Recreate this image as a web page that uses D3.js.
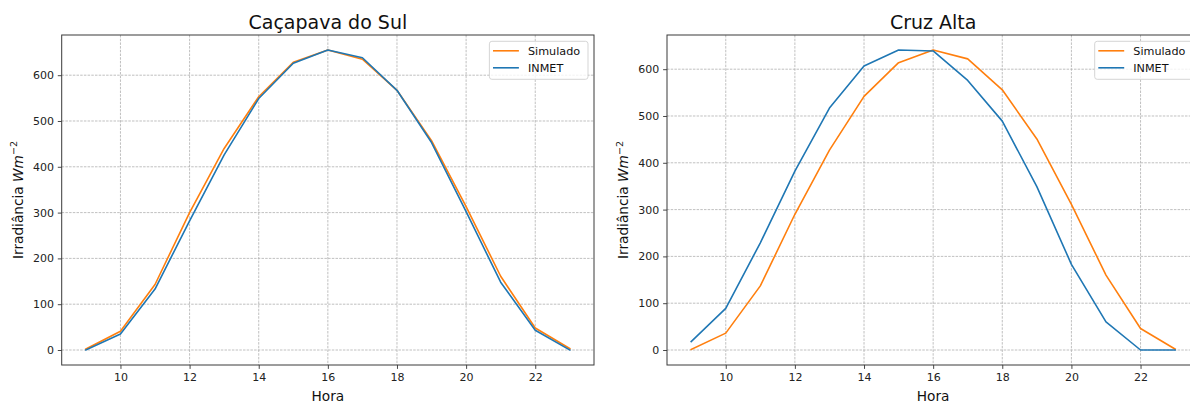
<!DOCTYPE html>
<html>
<head>
<meta charset="utf-8">
<script src="https://cdn.jsdelivr.net/npm/d3@7"></script>
<style>
  html, body { margin: 0; padding: 0; background: #fff; }
  svg { display: block; font-family: "DejaVu Sans", sans-serif; }
</style>
</head>
<body>
<svg id="chart" width="1190" height="403"></svg>
<script>
// ---- Data ----
const hours = [9, 10, 11, 12, 13, 14, 15, 16, 17, 18, 19, 20, 21, 22, 23];
const xTicks = [10, 12, 14, 16, 18, 20, 22];
const yTicks = [0, 100, 200, 300, 400, 500, 600];
const titles = ["Caçapava do Sul", "Cruz Alta"];
const seriesNames = ["Simulado", "INMET"];

const cacapavaSimulado = [2, 41, 143, 300, 440, 553, 628, 655, 635, 567, 457, 313, 161, 48, 3];
const cacapavaINMET    = [0, 35, 133, 282, 426, 549, 626, 655, 638, 567, 453, 302, 148, 43, 0];
const cruzAltaSimulado = [1, 36, 137, 290, 427, 542, 614, 641, 622, 556, 451, 311, 160, 46, 2];
const cruzAltaINMET    = [18, 89, 229, 382, 517, 607, 641, 639, 576, 489, 349, 183, 60, 0, 0];

const colors = ["#ff7f0e", "#1f77b4"];

(function () {
const panels = [
  { title: titles[0], series: [cacapavaSimulado, cacapavaINMET], left: 61.7 },
  { title: titles[1], series: [cruzAltaSimulado, cruzAltaINMET], left: 667 }
];

const svg = d3.select("#chart");
const W = 532.3, plotTop = 35, plotBottom = 365;
const tickFont = 11, labelFont = 13.7, titleFont = 19, legendFont = 11.2;
const tickLen = 3.9, tickPad = 3.9;

panels.forEach((p, pi) => {
  const g = svg.append("g");
  const x0 = p.left, x1 = p.left + W;

  const xExt = d3.extent(hours);
  const xPad = (xExt[1] - xExt[0]) * 0.05;
  const x = d3.scaleLinear().domain([xExt[0] - xPad, xExt[1] + xPad]).range([x0, x1]);

  const allY = p.series.flat();
  const yExt = d3.extent(allY);
  const yPad = (yExt[1] - yExt[0]) * 0.05;
  const y = d3.scaleLinear().domain([yExt[0] - yPad, yExt[1] + yPad]).range([plotBottom, plotTop]);

  // Grid
  const grid = g.append("g");
  grid.selectAll("line.gx").data(xTicks).enter().append("line")
    .attr("x1", d => x(d)).attr("x2", d => x(d))
    .attr("y1", plotTop).attr("y2", plotBottom)
    .attr("stroke", "#b0b0b0").attr("stroke-width", 0.8).attr("stroke-dasharray", "2.5,1.2");
  grid.selectAll("line.gy").data(yTicks).enter().append("line")
    .attr("x1", x0).attr("x2", x1)
    .attr("y1", d => y(d)).attr("y2", d => y(d))
    .attr("stroke", "#b0b0b0").attr("stroke-width", 0.8).attr("stroke-dasharray", "2.5,1.2");

  // Lines
  const line = d3.line().x((d, i) => x(hours[i])).y(d => y(d));
  const clipId = "clip" + pi;
  svg.append("clipPath").attr("id", clipId).append("rect")
    .attr("x", x0).attr("y", plotTop).attr("width", W).attr("height", plotBottom - plotTop);
  p.series.forEach((s, si) => {
    g.append("path").datum(s)
      .attr("d", line)
      .attr("fill", "none")
      .attr("stroke", colors[si])
      .attr("stroke-width", 1.6)
      .attr("stroke-linejoin", "round")
      .attr("stroke-linecap", "square")
      .attr("clip-path", `url(#${clipId})`);
  });

  // Axes
  const xAxis = d3.axisBottom(x).tickValues(xTicks).tickSize(tickLen).tickPadding(tickPad).tickFormat(d3.format("d"));
  const yAxis = d3.axisLeft(y).tickValues(yTicks).tickSize(tickLen).tickPadding(tickPad).tickFormat(d3.format("d"));
  const gx = g.append("g").attr("transform", `translate(0,${plotBottom})`).call(xAxis);
  const gy = g.append("g").attr("transform", `translate(${x0},0)`).call(yAxis);
  [gx, gy].forEach(a => {
    a.select(".domain").remove();
    a.selectAll(".tick line").attr("stroke", "#333").attr("stroke-width", 0.9);
    a.selectAll(".tick text").attr("fill", "#222").style("font-size", tickFont + "px")
      .style("font-family", "DejaVu Sans");
  });

  // Frame
  g.append("rect").attr("x", x0).attr("y", plotTop).attr("width", W).attr("height", plotBottom - plotTop)
    .attr("fill", "none").attr("stroke", "#3a3a3a").attr("stroke-width", 1);

  // Title
  g.append("text").attr("x", (x0 + x1) / 2).attr("y", 29)
    .attr("text-anchor", "middle").style("font-size", titleFont + "px").attr("fill", "#111")
    .text(p.title);

  // X label
  g.append("text").attr("x", (x0 + x1) / 2).attr("y", 400.5)
    .attr("text-anchor", "middle").style("font-size", labelFont + "px").attr("fill", "#111")
    .text("Hora");

  // Y label
  const yl = g.append("text")
    .attr("transform", `translate(${x0 - 39},${(plotTop + plotBottom) / 2}) rotate(-90)`)
    .attr("text-anchor", "middle").style("font-size", labelFont + "px").attr("fill", "#111");
  yl.append("tspan").text("Irradiância ");
  yl.append("tspan").style("font-style", "italic").text("Wm");
  yl.append("tspan").attr("dy", -5.5).style("font-size", (labelFont * 0.7) + "px").text("−2");

  // Legend
  const lg = g.append("g");
  const lx = x1 - 104.6, ly = 41.3, lw = 98.6, lh = 38;
  lg.append("rect").attr("x", lx).attr("y", ly).attr("width", lw).attr("height", lh)
    .attr("rx", 2.5).attr("fill", "#fff").attr("fill-opacity", 0.8)
    .attr("stroke", "#d0d0d0").attr("stroke-width", 0.9);
  seriesNames.forEach((n, i) => {
    const yy = ly + 9.5 + i * 17;
    lg.append("line").attr("x1", lx + 3.6).attr("x2", lx + 29.5)
      .attr("y1", yy).attr("y2", yy).attr("stroke", colors[i]).attr("stroke-width", 1.6);
    lg.append("text").attr("x", lx + 38.6).attr("y", yy + 4)
      .style("font-size", legendFont + "px").attr("fill", "#111").text(n);
  });
});
})();
</script>
</body>
</html>
